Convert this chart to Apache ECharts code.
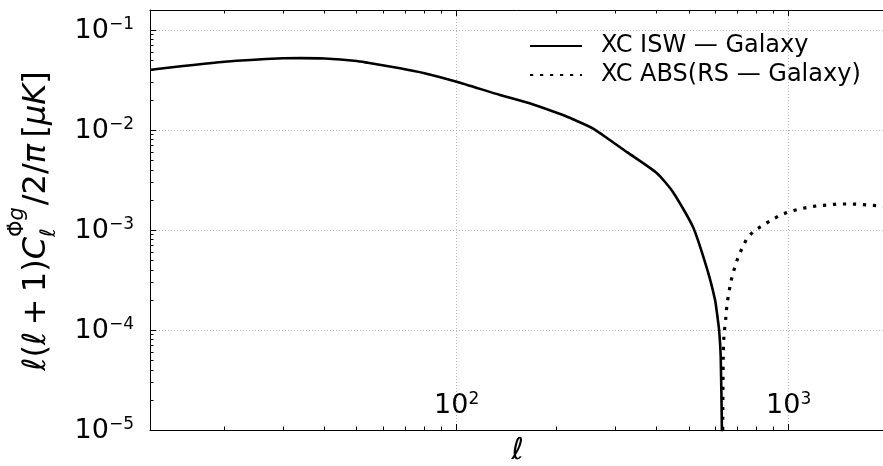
<!DOCTYPE html>
<html>
<head>
<meta charset="utf-8">
<title>XC ISW / RS — Galaxy</title>
<script src="https://cdn.jsdelivr.net/npm/echarts@6/dist/echarts.min.js"></script>
<style>
html, body { margin: 0; padding: 0; background: #fff; }
#chart { width: 883px; height: 466px; }
</style>
</head>
<body>
<div id="chart"></div>
<script>
// values
const iswName = 'XC ISW — Galaxy';
const rsName = 'XC ABS(RS — Galaxy)';

const iswL = [12, 15, 20, 30, 34, 40, 50, 54, 67.5, 80, 100, 135, 170, 209, 224, 257, 290,
  326, 401, 448, 515, 570, 600, 608, 617, 624, 629, 630];
const iswV = [0.040, 0.0437, 0.0482, 0.0521, 0.0523, 0.0518, 0.049, 0.047, 0.0415, 0.037,
  0.0304, 0.0224, 0.0180, 0.0141, 0.0128, 0.0104, 0.0079, 0.0060, 0.0037, 0.0024, 0.00107,
  0.00039, 0.0002, 0.000148, 0.0001, 0.000054, 0.0000108, 0.000001];

const rsL = [632, 633, 635, 638, 647, 651, 658, 666, 676, 689, 705, 725, 747, 786, 832, 882,
  937, 1002, 1069, 1146, 1228, 1316, 1410, 1512, 1620, 1737, 1862, 1950];
const rsV = [0.000001, 0.0000135, 0.000054, 0.000086, 0.000136, 0.000174, 0.00022, 0.000275,
  0.000347, 0.00043, 0.00054, 0.000665, 0.000807, 0.000977, 0.00110, 0.00124, 0.00139,
  0.00152, 0.00161, 0.00169, 0.00175, 0.00178, 0.00182, 0.00182, 0.00181, 0.00178, 0.00175,
  0.00173];

// tick values
const xMajor = [100, 1000];
const xMinor = [20, 30, 40, 50, 60, 70, 80, 90, 200, 300, 400, 500, 600, 700, 800, 900];
const yMajor = [1e-5, 1e-4, 1e-3, 1e-2, 1e-1];
const yMinor = [
  2e-5, 3e-5, 4e-5, 5e-5, 6e-5, 7e-5, 8e-5, 9e-5,
  2e-4, 3e-4, 4e-4, 5e-4, 6e-4, 7e-4, 8e-4, 9e-4,
  2e-3, 3e-3, 4e-3, 5e-3, 6e-3, 7e-3, 8e-3, 9e-3,
  2e-2, 3e-2, 4e-2, 5e-2, 6e-2, 7e-2, 8e-2, 9e-2
];
const xMin = 11.92, xMax = 1950;
const yMin = 1e-5, yMax = 0.1585;

const FONT = 'DejaVu Sans';
const zip = (a, b) => a.map((v, i) => [v, b[i]]);

const powLabel = (v) => {
  const e = Math.round(Math.log10(v));
  return '{b|10}{s|' + (e < 0 ? '\u2212' + (-e) : e) + '}';
};
const labelRich = {
  b: { fontFamily: FONT, fontSize: 27, lineHeight: 28, color: '#000', verticalAlign: 'bottom' },
  s: { fontFamily: FONT, fontSize: 17, lineHeight: 17, color: '#000', verticalAlign: 'top' }
};
const gridLine = { show: true, lineStyle: { color: '#bbb', width: 1, type: [1, 2] } };

const mkX = (pos, ticks, len, main) => ({
  type: 'log', position: pos, min: xMin, max: xMax,
  axisLine: { show: main, lineStyle: { color: '#000', width: 1 } },
  axisTick: { show: true, inside: true, length: len, customValues: ticks,
    lineStyle: { color: '#000', width: 1 } },
  axisLabel: { show: false },
  splitLine: { show: false }
});
const mkY = (ticks, len, main) => ({
  type: 'log', position: 'left', min: yMin, max: yMax,
  axisLine: { show: main, lineStyle: { color: '#000', width: 1 } },
  axisTick: { show: true, inside: true, length: len, customValues: ticks,
    lineStyle: { color: '#000', width: 1 } },
  axisLabel: { show: false },
  splitLine: { show: false }
});

const xMain = mkX('bottom', xMajor, 6, true);
xMain.axisLabel = { show: true, inside: true, margin: 11, customValues: xMajor,
  formatter: powLabel, rich: labelRich };
xMain.splitLine = gridLine;
xMain.name = 'ℓ';
xMain.nameLocation = 'middle';
xMain.nameGap = 4;
xMain.nameTextStyle = { fontFamily: FONT, fontSize: 30, fontStyle: 'italic', color: '#000' };

const yMain = mkY(yMajor, 6, true);
yMain.axisLabel = { show: true, margin: 16, customValues: yMajor,
  formatter: powLabel, rich: labelRich };
yMain.splitLine = gridLine;

// y title, mathtext-like: sub and sup stacked after C
const ctx = document.createElement('canvas').getContext('2d');
const measure = (t, size, it) => {
  ctx.font = (it ? 'italic ' : '') + size + 'px "' + FONT + '"';
  return ctx.measureText(t).width;
};
const head = [['ℓ', 1], ['(', 0], ['ℓ', 1], ['\u2009+\u2009', 0], ['1', 0], [')', 0], ['C', 1]];
const sup = [['\u03A6\u0307', 0], ['g', 1]];
const sub = [['ℓ', 1]];
const tail = [['/2/', 0], ['π', 1], ['\u2009[', 0], ['μK', 1], [']', 0]];
const kids = [];
let cx = 0;
const put = (parts, size, dy) => {
  let xx = cx;
  parts.forEach(([t, it]) => {
    kids.push({ type: 'text', x: xx, y: dy, style: {
      text: t, fontFamily: FONT, fontSize: size, fontStyle: it ? 'italic' : 'normal',
      fill: '#000', textAlign: 'left', textVerticalAlign: 'middle' } });
    xx += measure(t, size, it);
  });
  return xx - cx;
};
cx += put(head, 32, 0);
const wSup = put(sup, 21, -19);
const wSub = put(sub, 21, 13);
cx += Math.max(wSup, wSub) + 2;
cx += put(tail, 32, 0);
kids.forEach(k => { k.x -= cx / 2; });

const chart = echarts.init(document.getElementById('chart'));
chart.setOption({
  animation: false,
  backgroundColor: '#fff',
  grid: { left: 150, right: -2, top: 10, bottom: 36, outerBoundsMode: 'none' },
  legend: {
    orient: 'vertical', left: 529, top: 33, padding: 0,
    itemWidth: 52, itemHeight: 14, itemGap: 3,
    itemStyle: { color: 'rgba(0,0,0,0)', borderColor: 'rgba(0,0,0,0)', borderWidth: 0, opacity: 0 },
    textStyle: { fontFamily: FONT, fontSize: 24, lineHeight: 26, color: '#000', padding: [0, 0, 0, 14] },
    data: [iswName, rsName]
  },
  xAxis: [xMain, mkX('bottom', xMinor, 3.5, false), mkX('top', xMajor, 6, true), mkX('top', xMinor, 3.5, false)],
  yAxis: [yMain, mkY(yMinor, 3.5, false)],
  graphic: [{ type: 'group', x: 36.5, y: 221, rotation: Math.PI / 2, children: kids }],
  series: [
    {
      name: iswName, type: 'line', xAxisIndex: 0, yAxisIndex: 0,
      data: zip(iswL, iswV), symbol: 'none', smooth: 0.2, clip: true,
      lineStyle: { color: '#000', width: 2.6 }, itemStyle: { color: '#000' }
    },
    {
      name: rsName, type: 'line', xAxisIndex: 0, yAxisIndex: 0,
      data: zip(rsL, rsV), symbol: 'none', smooth: 0.2, clip: true,
      lineStyle: { color: '#000', width: 3.2, type: [3.2, 6.8], cap: 'butt' },
      itemStyle: { color: '#000' }
    }
  ]
});
</script>
</body>
</html>
